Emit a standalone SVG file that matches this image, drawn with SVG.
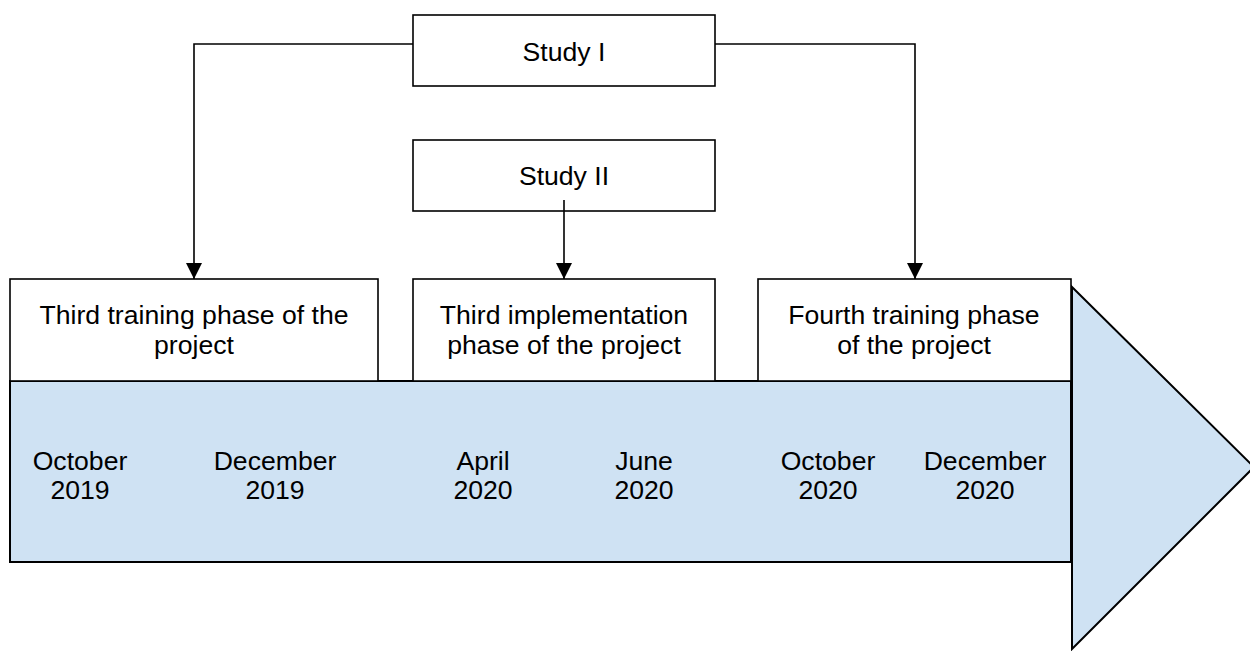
<svg xmlns="http://www.w3.org/2000/svg" width="1250" height="651" viewBox="0 0 1250 651">
  <style>
    .box { fill: #ffffff; stroke: #000000; stroke-width: 1.6; }
    .band { fill: #cfe2f3; stroke: #000000; stroke-width: 2; }
    .wire { fill: none; stroke: #000000; stroke-width: 1.6; }
    text { font-family: "Liberation Sans", Arial, sans-serif; font-size: 26.6px; fill: #000000; text-anchor: middle; }
  </style>
  <defs>
    <marker id="arrow" markerUnits="userSpaceOnUse" markerWidth="18" markerHeight="18" viewBox="0 0 18 18" refX="16" refY="9" orient="auto">
      <path d="M0,1 L16,9 L0,17 Z" fill="#000000"/>
    </marker>
  </defs>

  <!-- timeline band with arrow head -->
  <g id="timeline">
    <polygon class="band" points="1072,287 1254,467 1072,649"/>
    <rect class="band" x="10" y="381" width="1061" height="181"/>
    <text x="80" y="470">October</text>
    <text x="80" y="499">2019</text>
    <text x="275" y="470">December</text>
    <text x="275" y="499">2019</text>
    <text x="483" y="470">April</text>
    <text x="483" y="499">2020</text>
    <text x="644" y="470">June</text>
    <text x="644" y="499">2020</text>
    <text x="828" y="470">October</text>
    <text x="828" y="499">2020</text>
    <text x="985" y="470">December</text>
    <text x="985" y="499">2020</text>
  </g>

  <g id="study1">
    <rect class="box" x="413" y="15" width="302" height="71"/>
    <text x="564" y="61">Study I</text>
  </g>

  <g id="study2">
    <rect class="box" x="413" y="140" width="302" height="71"/>
    <text x="564" y="185">Study II</text>
  </g>

  <g id="phase-third-training">
    <rect class="box" x="10" y="279" width="368" height="102"/>
    <text x="194" y="324">Third training phase of the</text>
    <text x="194" y="354">project</text>
  </g>

  <g id="phase-third-implementation">
    <rect class="box" x="413" y="279" width="302" height="102"/>
    <text x="564" y="324">Third implementation</text>
    <text x="564" y="354">phase of the project</text>
  </g>

  <g id="phase-fourth-training">
    <rect class="box" x="758" y="279" width="313" height="102"/>
    <text x="914" y="324">Fourth training phase</text>
    <text x="914" y="354">of the project</text>
  </g>

  <!-- connectors, drawn over the boxes -->
  <g id="connectors">
    <polyline class="wire" points="413,44 194,44 194,279" marker-end="url(#arrow)"/>
    <polyline class="wire" points="715,44 915,44 915,279" marker-end="url(#arrow)"/>
    <line class="wire" x1="564" y1="200" x2="564" y2="279" marker-end="url(#arrow)"/>
  </g>
</svg>
